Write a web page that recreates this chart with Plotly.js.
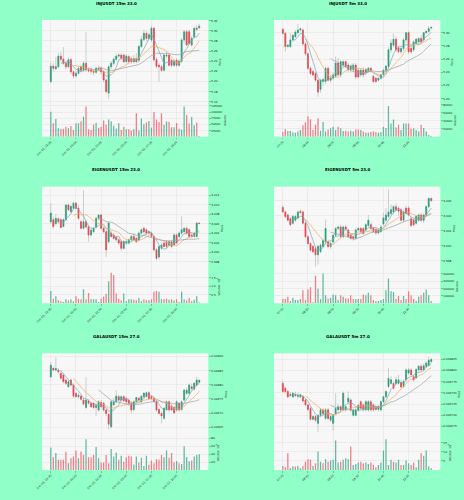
<!DOCTYPE html>
<html><head><meta charset="utf-8">
<script src="https://cdn.plot.ly/plotly-3.0.1.min.js"></script>
<style>html,body{margin:0;padding:0;background:#90ffc8;}#chart{width:464px;height:500px;}</style>
</head><body><div id="chart"></div>
<script>
// ---------- tick labels ----------
const ticks15Text = ['Dec 01, 21:30','Dec 02, 00:00','Dec 02, 02:30','Dec 02, 05:00','Dec 02, 07:30','Dec 02, 10:00'];
const ticks5Text = ['07:20','08:10','09:00','09:50','10:40','11:30'];
const tickCandles = [0,10,20,30,40,50];

// ---------- INJUSDT 15m ----------
const inj15Open = [5.200,5.230,5.225,5.229,5.250,5.244,5.236,5.229,5.243,5.219, 5.211,5.216,5.229,5.222,5.236,5.223,5.224,5.220,5.218,5.226, 5.226,5.219,5.203,5.177,5.229,5.236,5.244,5.250,5.252,5.252, 5.239,5.249,5.245,5.239,5.245,5.242,5.269,5.283,5.295,5.285, 5.282,5.305,5.243,5.232,5.229,5.222,5.250,5.252,5.242,5.232, 5.242,5.232,5.240,5.282,5.298,5.298,5.272,5.288,5.305,5.306];
const inj15High = [5.238,5.236,5.248,5.256,5.258,5.268,5.240,5.247,5.246,5.222, 5.220,5.231,5.233,5.240,5.298,5.228,5.228,5.224,5.230,5.232, 5.230,5.222,5.206,5.232,5.240,5.248,5.254,5.256,5.256,5.255, 5.254,5.252,5.250,5.252,5.256,5.272,5.290,5.302,5.300,5.296, 5.310,5.308,5.248,5.236,5.233,5.256,5.258,5.255,5.245,5.243, 5.246,5.244,5.285,5.302,5.302,5.302,5.290,5.308,5.312,5.314];
const inj15Low = [5.196,5.220,5.222,5.226,5.240,5.232,5.224,5.226,5.214,5.206, 5.208,5.214,5.218,5.219,5.219,5.218,5.214,5.212,5.215,5.220, 5.213,5.198,5.176,5.165,5.225,5.232,5.240,5.246,5.242,5.236, 5.236,5.235,5.234,5.236,5.236,5.238,5.266,5.280,5.280,5.282, 5.278,5.240,5.226,5.200,5.218,5.220,5.246,5.229,5.228,5.229, 5.228,5.229,5.236,5.275,5.270,5.272,5.268,5.284,5.300,5.303];
const inj15Close = [5.230,5.226,5.229,5.250,5.244,5.236,5.229,5.243,5.219,5.211, 5.216,5.226,5.222,5.236,5.223,5.221,5.220,5.218,5.226,5.224, 5.219,5.203,5.180,5.229,5.236,5.244,5.250,5.252,5.246,5.239, 5.250,5.239,5.239,5.245,5.239,5.269,5.283,5.295,5.285,5.292, 5.305,5.243,5.230,5.229,5.222,5.252,5.252,5.232,5.232,5.239, 5.232,5.240,5.282,5.298,5.272,5.275,5.285,5.305,5.303,5.309];
const inj15Vol = [101000,54000,72000,34000,31000,31000,40000,34000,43000,27000, 54000,54000,63000,81000,122000,30000,27000,48000,56000,36000, 40000,66000,48000,70000,63000,44000,33000,54000,27000,40000, 30000,30000,25000,30000,95000,25000,74000,50000,57000,64000, 36000,100000,70000,60000,95000,48000,62000,60000,38000,38000, 55000,32000,28000,122000,88000,53000,80000,46000,58000,3000];
const inj15PriceTicks = [5.16,5.18,5.20,5.22,5.24,5.26,5.28,5.30,5.32];
const inj15VolTicks = [25000,50000,75000,100000,125000];

// ---------- INJUSDT 5m ----------
const inj5Open = [5.305,5.299,5.279,5.279,5.289,5.294,5.300,5.304,5.304,5.283, 5.268,5.246,5.241,5.238,5.228,5.214,5.226,5.226,5.246,5.228, 5.231,5.234,5.254,5.236,5.251,5.256,5.251,5.244,5.244,5.251, 5.243,5.236,5.243,5.240,5.241,5.246,5.234,5.231,5.228,5.231, 5.236,5.243,5.249,5.274,5.281,5.290,5.277,5.271,5.276,5.289, 5.300,5.276,5.274,5.284,5.286,5.291,5.289,5.300,5.302,5.307];
const inj5High = [5.307,5.301,5.283,5.299,5.298,5.304,5.313,5.307,5.306,5.286, 5.270,5.249,5.244,5.240,5.230,5.230,5.231,5.249,5.249,5.236, 5.239,5.264,5.262,5.258,5.258,5.258,5.254,5.250,5.254,5.254, 5.246,5.246,5.248,5.246,5.248,5.248,5.236,5.233,5.232,5.238, 5.246,5.251,5.278,5.290,5.299,5.294,5.280,5.278,5.292,5.300, 5.302,5.280,5.289,5.292,5.293,5.296,5.300,5.303,5.310,5.309];
const inj5Low = [5.297,5.271,5.276,5.277,5.286,5.292,5.298,5.302,5.280,5.265, 5.244,5.236,5.234,5.226,5.203,5.209,5.220,5.222,5.226,5.224, 5.228,5.232,5.234,5.232,5.248,5.246,5.240,5.240,5.240,5.230, 5.231,5.233,5.232,5.236,5.240,5.240,5.224,5.224,5.226,5.229, 5.233,5.240,5.246,5.270,5.278,5.271,5.269,5.268,5.272,5.285, 5.268,5.268,5.271,5.282,5.283,5.283,5.286,5.298,5.300,5.305];
const inj5Close = [5.299,5.279,5.281,5.289,5.296,5.301,5.304,5.306,5.283,5.268, 5.246,5.238,5.236,5.228,5.210,5.228,5.229,5.246,5.228,5.231, 5.236,5.254,5.236,5.256,5.256,5.249,5.244,5.249,5.251,5.233, 5.233,5.243,5.236,5.244,5.246,5.243,5.226,5.226,5.231,5.236, 5.243,5.249,5.274,5.284,5.290,5.274,5.271,5.276,5.289,5.300, 5.271,5.271,5.286,5.290,5.291,5.286,5.300,5.302,5.306,5.308];
const inj5Vol = [12000,19000,14000,14000,11000,10000,13000,17000,29000,36000, 51000,44000,17000,30000,46000,15000,37000,13000,18000,21000, 25000,17000,25000,21000,14000,15000,13000,15000,13000,18000, 18000,17000,13000,10000,10000,12000,13000,11000,10000,12000, 25000,22000,77000,33000,43000,23000,30000,17000,33000,33000, 33000,20000,21000,17000,13000,30000,22000,13000,4000,2000];
const inj5PriceTicks = [5.20,5.22,5.24,5.26,5.28,5.30];
const inj5VolTicks = [20000,40000,60000,80000];

// ---------- EIGENUSDT 15m ----------
const eig15Open = [3.0064,3.0068,3.0060,3.0070,3.0068,3.0054,3.0068,3.0099,3.0085,3.0092, 3.0103,3.0092,3.0064,3.0050,3.0064,3.0053,3.0036,3.0043,3.0053,3.0071, 3.0078,3.0050,3.0043,3.0022,3.0040,3.0036,3.0032,3.0026,3.0022,3.0008, 3.0019,3.0019,3.0026,3.0033,3.0029,3.0026,3.0040,3.0050,3.0047,3.0040, 3.0040,3.0033,3.0005,2.9990,3.0008,3.0019,3.0022,3.0015,3.0022,3.0015, 3.0036,3.0033,3.0040,3.0043,3.0050,3.0047,3.0036,3.0033,3.0033,3.0061];
const eig15High = [3.0103,3.0075,3.0080,3.0073,3.0072,3.0071,3.0101,3.0102,3.0099,3.0106, 3.0105,3.0099,3.0068,3.0130,3.0068,3.0056,3.0048,3.0053,3.0075,3.0080, 3.0080,3.0053,3.0046,3.0064,3.0046,3.0040,3.0035,3.0029,3.0025,3.0025, 3.0026,3.0029,3.0036,3.0040,3.0032,3.0043,3.0050,3.0054,3.0050,3.0045, 3.0043,3.0036,3.0008,3.0015,3.0019,3.0024,3.0025,3.0025,3.0026,3.0040, 3.0040,3.0043,3.0075,3.0053,3.0054,3.0050,3.0040,3.0043,3.0064,3.0063];
const eig15Low = [3.0060,3.0050,3.0057,3.0060,3.0050,3.0052,3.0065,3.0086,3.0082,3.0090, 3.0089,3.0068,3.0048,3.0048,3.0050,3.0022,3.0033,3.0040,3.0050,3.0066, 3.0048,3.0040,2.9990,3.0019,3.0030,3.0026,3.0022,3.0015,3.0003,3.0005, 3.0015,3.0016,3.0022,3.0024,3.0019,3.0022,3.0037,3.0040,3.0036,3.0036, 3.0030,3.0002,2.9983,2.9985,3.0005,3.0010,3.0008,3.0012,3.0008,3.0012, 3.0016,3.0030,3.0036,3.0040,3.0036,3.0030,3.0030,3.0030,3.0030,3.0059];
const eig15Close = [3.0082,3.0054,3.0071,3.0064,3.0052,3.0068,3.0099,3.0089,3.0096,3.0103, 3.0092,3.0071,3.0050,3.0064,3.0053,3.0036,3.0046,3.0050,3.0071,3.0078, 3.0050,3.0043,3.0005,3.0061,3.0033,3.0029,3.0026,3.0019,3.0008,3.0022, 3.0022,3.0026,3.0033,3.0026,3.0022,3.0040,3.0047,3.0043,3.0040,3.0043, 3.0033,3.0005,2.9987,3.0012,3.0015,3.0012,3.0012,3.0022,3.0012,3.0036, 3.0019,3.0040,3.0047,3.0050,3.0040,3.0033,3.0033,3.0040,3.0061,3.0060];
const eig15Vol = [710000,270000,410000,180000,120000,80000,240000,160000,240000,120000, 410000,270000,240000,820000,240000,600000,240000,240000,240000,80000, 270000,390000,550000,1290000,1780000,1650000,570000,270000,180000,570000, 120000,240000,240000,200000,180000,310000,120000,240000,180000,180000, 240000,670000,710000,670000,240000,240000,270000,200000,240000,160000, 240000,80000,670000,240000,180000,310000,120000,200000,410000,40000];
const eig15PriceTicks = [2.998,3.000,3.002,3.004,3.006,3.008,3.010,3.012];
const eig15VolTicks = [500000,1000000,1500000];
const eig15VolText = ['0.5','1.0','1.5'];

// ---------- EIGENUSDT 5m ----------
const eig5Open = [3.0051,3.0045,3.0041,3.0036,3.0030,3.0034,3.0037,3.0046,3.0045,3.0030, 3.0012,3.0003,2.9999,2.9996,2.9988,2.9992,2.9999,3.0005,3.0005,2.9999, 3.0005,3.0014,3.0023,3.0025,3.0012,3.0025,3.0021,3.0014,3.0012,3.0010, 3.0021,3.0023,3.0023,3.0021,3.0027,3.0028,3.0023,3.0022,3.0017,3.0019, 3.0029,3.0034,3.0039,3.0043,3.0045,3.0052,3.0050,3.0048,3.0034,3.0050, 3.0050,3.0036,3.0034,3.0030,3.0034,3.0041,3.0034,3.0041,3.0052,3.0063];
const eig5High = [3.0054,3.0047,3.0043,3.0038,3.0041,3.0041,3.0047,3.0048,3.0047,3.0032, 3.0014,3.0005,3.0001,2.9999,3.0001,3.0003,3.0010,3.0035,3.0008,3.0006, 3.0016,3.0025,3.0027,3.0028,3.0027,3.0028,3.0023,3.0016,3.0014,3.0023, 3.0025,3.0025,3.0025,3.0030,3.0041,3.0031,3.0025,3.0023,3.0022,3.0028, 3.0044,3.0050,3.0075,3.0055,3.0054,3.0056,3.0052,3.0050,3.0048,3.0053, 3.0053,3.0038,3.0036,3.0041,3.0043,3.0044,3.0043,3.0054,3.0064,3.0064];
const eig5Low = [3.0044,3.0037,3.0032,3.0026,3.0028,3.0032,3.0035,3.0043,3.0028,3.0010, 3.0001,2.9992,2.9990,2.9972,2.9975,2.9990,2.9997,3.0003,2.9997,2.9996, 3.0003,3.0012,3.0021,3.0010,3.0010,3.0021,3.0010,3.0008,3.0007,3.0008, 3.0019,3.0017,3.0015,3.0019,3.0025,3.0021,3.0017,3.0014,3.0015,3.0017, 3.0027,3.0032,3.0037,3.0041,3.0043,3.0046,3.0040,3.0032,3.0032,3.0042, 3.0039,3.0025,3.0026,3.0028,3.0032,3.0032,3.0030,3.0039,3.0050,3.0059];
const eig5Close = [3.0045,3.0039,3.0034,3.0028,3.0039,3.0039,3.0045,3.0044,3.0030,3.0012, 3.0003,2.9994,2.9992,2.9988,2.9999,3.0001,3.0007,3.0023,2.9999,3.0003, 3.0014,3.0023,3.0025,3.0012,3.0025,3.0022,3.0012,3.0010,3.0010,3.0021, 3.0023,3.0019,3.0016,3.0028,3.0034,3.0023,3.0019,3.0017,3.0021,3.0025, 3.0037,3.0041,3.0045,3.0048,3.0052,3.0048,3.0046,3.0034,3.0045,3.0043, 3.0041,3.0027,3.0028,3.0039,3.0041,3.0034,3.0041,3.0052,3.0063,3.0060];
const eig5Vol = [57000,57000,88000,31000,75000,44000,44000,57000,176000,44000, 189000,220000,13000,374000,198000,57000,405000,110000,66000,75000, 119000,110000,44000,110000,88000,66000,66000,110000,57000,57000, 57000,57000,119000,110000,145000,110000,44000,31000,31000,44000, 57000,176000,339000,163000,154000,57000,101000,44000,101000,57000, 163000,110000,57000,31000,88000,110000,145000,189000,110000,31000];
const eig5PriceTicks = [2.998,3.000,3.002,3.004,3.006];
const eig5VolTicks = [100000,200000,300000,400000];

// ---------- GALAUSDT 15m ----------
const gala15Open = [0.046828,0.046858,0.046852,0.046852,0.046840,0.046834,0.046817,0.046793,0.046817,0.046799, 0.046770,0.046758,0.046760,0.046746,0.046720,0.046743,0.046735,0.046735,0.046720,0.046711, 0.046738,0.046735,0.046711,0.046696,0.046652,0.046729,0.046740,0.046758,0.046746,0.046758, 0.046752,0.046746,0.046735,0.046713,0.046740,0.046752,0.046740,0.046758,0.046760,0.046772, 0.046758,0.046752,0.046740,0.046713,0.046699,0.046682,0.046713,0.046740,0.046725,0.046720, 0.046711,0.046735,0.046713,0.046746,0.046770,0.046770,0.046793,0.046785,0.046799,0.046809];
const gala15High = [0.046880,0.046864,0.046896,0.046860,0.046852,0.046840,0.046822,0.046817,0.046822,0.046805, 0.046775,0.046772,0.046765,0.046752,0.046828,0.046750,0.046740,0.046740,0.046735,0.046746, 0.046745,0.046740,0.046716,0.046700,0.046746,0.046752,0.046781,0.046764,0.046762,0.046764, 0.046758,0.046752,0.046742,0.046745,0.046758,0.046758,0.046764,0.046775,0.046776,0.046778, 0.046764,0.046755,0.046745,0.046716,0.046705,0.046722,0.046745,0.046746,0.046732,0.046725, 0.046746,0.046740,0.046745,0.046788,0.046790,0.046805,0.046805,0.046810,0.046828,0.046822];
const gala15Low = [0.046822,0.046848,0.046848,0.046840,0.046818,0.046805,0.046799,0.046790,0.046795,0.046755, 0.046755,0.046752,0.046745,0.046728,0.046715,0.046730,0.046718,0.046715,0.046690,0.046705, 0.046718,0.046705,0.046690,0.046641,0.046645,0.046725,0.046735,0.046740,0.046740,0.046738, 0.046735,0.046725,0.046700,0.046705,0.046735,0.046740,0.046735,0.046752,0.046755,0.046750, 0.046745,0.046736,0.046705,0.046695,0.046664,0.046676,0.046708,0.046705,0.046708,0.046697, 0.046705,0.046705,0.046708,0.046740,0.046764,0.046764,0.046780,0.046778,0.046795,0.046805];
const gala15Close = [0.046869,0.046852,0.046857,0.046846,0.046823,0.046811,0.046805,0.046811,0.046799,0.046760, 0.046758,0.046764,0.046749,0.046732,0.046746,0.046735,0.046723,0.046720,0.046726,0.046740, 0.046723,0.046711,0.046699,0.046661,0.046740,0.046740,0.046760,0.046746,0.046758,0.046744, 0.046740,0.046735,0.046711,0.046740,0.046755,0.046746,0.046760,0.046770,0.046772,0.046752, 0.046752,0.046740,0.046711,0.046699,0.046690,0.046717,0.046740,0.046711,0.046711,0.046701, 0.046740,0.046711,0.046740,0.046781,0.046781,0.046799,0.046787,0.046805,0.046817,0.046815];
const gala15Vol = [57e6,32e6,43e6,26e6,26e6,26e6,46e6,17e6,30e6,34e6, 49e6,30e6,47e6,38e6,78e6,32e6,32e6,38e6,58e6,30e6, 19e6,19e6,38e6,17e6,53e6,34e6,44e6,26e6,36e6,21e6, 32e6,36e6,34e6,14e6,34e6,19e6,31e6,10e6,36e6,13e6, 24e6,17e6,27e6,26e6,38e6,32e6,49e6,31e6,43e6,19e6, 23e6,17e6,15e6,60e6,33e6,22e6,24e6,34e6,38e6,40e6];
const gala15PriceTicks = [0.04665,0.04670,0.04675,0.04680,0.04685,0.04690];
const gala15VolTicks = [20e6,40e6,60e6,80e6];
const gala15VolText = ['20','40','60','80'];

// ---------- GALAUSDT 5m ----------
const gala5Open = [0.046771,0.046760,0.046753,0.046744,0.046741,0.046746,0.046742,0.046741,0.046741,0.046734, 0.046723,0.046715,0.046691,0.046697,0.046682,0.046700,0.046712,0.046693,0.046712,0.046689, 0.046682,0.046704,0.046712,0.046719,0.046712,0.046712,0.046730,0.046734,0.046700,0.046700, 0.046712,0.046730,0.046723,0.046712,0.046712,0.046730,0.046723,0.046719,0.046713,0.046712, 0.046730,0.046741,0.046764,0.046771,0.046771,0.046771,0.046771,0.046773,0.046764,0.046779, 0.046794,0.046801,0.046786,0.046783,0.046801,0.046809,0.046801,0.046809,0.046811,0.046820];
const gala5High = [0.046776,0.046764,0.046756,0.046752,0.046752,0.046752,0.046750,0.046748,0.046745,0.046738, 0.046726,0.046718,0.046700,0.046700,0.046702,0.046716,0.046715,0.046716,0.046716,0.046700, 0.046703,0.046749,0.046726,0.046722,0.046753,0.046722,0.046753,0.046738,0.046715,0.046718, 0.046726,0.046733,0.046726,0.046734,0.046734,0.046734,0.046727,0.046722,0.046722,0.046733, 0.046744,0.046756,0.046805,0.046786,0.046775,0.046786,0.046790,0.046778,0.046780,0.046804, 0.046805,0.046805,0.046790,0.046805,0.046812,0.046815,0.046815,0.046820,0.046830,0.046828];
const gala5Low = [0.046750,0.046749,0.046738,0.046740,0.046738,0.046740,0.046736,0.046738,0.046728,0.046720, 0.046710,0.046688,0.046688,0.046685,0.046663,0.046696,0.046700,0.046690,0.046690,0.046685, 0.046666,0.046700,0.046710,0.046710,0.046709,0.046708,0.046726,0.046708,0.046697,0.046698, 0.046708,0.046712,0.046708,0.046709,0.046708,0.046708,0.046708,0.046710,0.046708,0.046709, 0.046727,0.046738,0.046760,0.046768,0.046758,0.046768,0.046768,0.046760,0.046761,0.046776, 0.046790,0.046788,0.046775,0.046780,0.046798,0.046798,0.046798,0.046806,0.046808,0.046816];
const gala5Close = [0.046753,0.046753,0.046741,0.046746,0.046749,0.046744,0.046744,0.046745,0.046732,0.046723, 0.046713,0.046691,0.046697,0.046689,0.046700,0.046712,0.046704,0.046712,0.046693,0.046697, 0.046700,0.046715,0.046719,0.046712,0.046749,0.046719,0.046738,0.046712,0.046712,0.046712, 0.046722,0.046716,0.046712,0.046730,0.046730,0.046712,0.046712,0.046713,0.046720,0.046730, 0.046741,0.046753,0.046782,0.046779,0.046760,0.046779,0.046779,0.046763,0.046775,0.046801, 0.046801,0.046790,0.046779,0.046802,0.046809,0.046801,0.046810,0.046816,0.046822,0.046824];
const gala5Vol = [2.2e6,1.5e6,9.3e6,0.9e6,1.9e6,1.9e6,2.2e6,0.9e6,2.2e6,4.6e6, 5.9e6,5.6e6,2.2e6,3.7e6,10.2e6,4.6e6,3.7e6,5.9e6,4.6e6,5.2e6, 5.6e6,16.3e6,4.1e6,4.6e6,5.6e6,6.5e6,5.9e6,13e6,2.8e6,3.3e6, 4.1e6,4.6e6,3.7e6,4.1e6,3.3e6,4.1e6,2.8e6,1.5e6,2.8e6,4.1e6, 10.7e6,17e6,2.8e6,5.6e6,4.6e6,4.1e6,5.6e6,2.8e6,2.8e6,5.2e6, 3.7e6,2.8e6,4.1e6,1.5e6,5.6e6,9.3e6,7.8e6,10.7e6,1.9e6,0.9e6];
const gala5PriceTicks = [0.046675,0.046700,0.046725,0.046750,0.046775,0.046800,0.046825];
const gala5VolTicks = [5e6,10e6,15e6];
const gala5VolText = ['5','10','15'];

const mavPeriods = [5, 10, 20];

// ---------- build ----------
const UP = '#22a47b', DN = '#f2424f';
const UPV = 'rgba(34,164,123,0.72)', DNV = 'rgba(242,66,79,0.68)';
const WICK = '#a3a3a3';
const MA_COLORS = ['#7ea3b8', '#f3a95e', '#9aa2a6'];
const FONT = 'DejaVu Sans';

function sma(arr, n) {
  return arr.map((_, i) => i < n - 1 ? null : arr.slice(i - n + 1, i + 1).reduce((a, b) => a + b, 0) / n);
}

const panels = [
  {title:'INJUSDT 15m 33.0', o:inj15Open, h:inj15High, l:inj15Low, c:inj15Close, v:inj15Vol,
   pt:inj15PriceTicks, pf:'.2f', pr:[5.1555,5.3213], vt:inj15VolTicks, vtx:inj15VolTicks.map(String), vr:[0,132400], vtitle:'Volume', xt:ticks15Text},
  {title:'INJUSDT 5m 33.0', o:inj5Open, h:inj5High, l:inj5Low, c:inj5Close, v:inj5Vol,
   pt:inj5PriceTicks, pf:'.2f', pr:[5.1919,5.3192], vt:inj5VolTicks, vtx:inj5VolTicks.map(String), vr:[0,82000], vtitle:'Volume', xt:ticks5Text},
  {title:'EIGENUSDT 15m 23.0', o:eig15Open, h:eig15High, l:eig15Low, c:eig15Close, v:eig15Vol,
   pt:eig15PriceTicks, pf:'.3f', pr:[2.99625,3.01375], vt:eig15VolTicks, vtx:eig15VolText, vr:[0,1940000], vtitle:'Volume  10<sup>6</sup>', xt:ticks15Text},
  {title:'EIGENUSDT 5m 23.0', o:eig5Open, h:eig5High, l:eig5Low, c:eig5Close, v:eig5Vol,
   pt:eig5PriceTicks, pf:'.3f', pr:[2.99677,3.00786], vt:eig5VolTicks, vtx:eig5VolTicks.map(String), vr:[0,453000], vtitle:'Volume', xt:ticks5Text},
  {title:'GALAUSDT 15m 27.0', o:gala15Open, h:gala15High, l:gala15Low, c:gala15Close, v:gala15Vol,
   pt:gala15PriceTicks, pf:'.5f', pr:[0.046623,0.046911], vt:gala15VolTicks, vtx:gala15VolText, vr:[0,88.5e6], vtitle:'Volume  10<sup>6</sup>', xt:ticks15Text},
  {title:'GALAUSDT 5m 27.0', o:gala5Open, h:gala5High, l:gala5Low, c:gala5Close, v:gala5Vol,
   pt:gala5PriceTicks, pf:'.6f', pr:[0.046656,0.046838], vt:gala5VolTicks, vtx:gala5VolText, vr:[0,19.3e6], vtitle:'Volume  10<sup>6</sup>', xt:ticks5Text}
];

const W = 464, H = 500;
const colPx = [[42, 208.3], [274, 440.3]];
const rowPx = [{top:20, div:104, bot:136.7, ty:3.8}, {top:186.7, div:270, bot:303.3, ty:169.8}, {top:353.3, div:435, bot:470, ty:336}];
const titleX = [116, 348];
const XR = [-3.5, 62.6];

const traces = [];
const layout = {
  width: W, height: H, margin: {l:0, r:0, t:0, b:0},
  paper_bgcolor: '#90ffc8', plot_bgcolor: '#f7f7f7',
  showlegend: false, hovermode: false, dragmode: false,
  boxmode: 'overlay', boxgap: 0.38, boxgroupgap: 0.38, bargap: 0.5,
  font: {family: FONT, size: 3, color: '#222'},
  annotations: []
};

function axName(i) { return i === 1 ? '' : String(i); }

panels.forEach((P, k) => {
  const col = k % 2, row = Math.floor(k / 2);
  const ia = 2 * k + 1, ib = 2 * k + 2;
  const xa = 'x' + axName(ia), ya = 'y' + axName(ia);
  const xb = 'x' + axName(ib), yb = 'y' + axName(ib);
  const xs = P.o.map((_, i) => i);
  const xd = [colPx[col][0] / W, colPx[col][1] / W];
  const R = rowPx[row];
  const pd = [1 - R.div / H, 1 - R.top / H];
  const vd = [1 - R.bot / H, 1 - R.div / H];

  // wicks (grey)
  traces.push({type:'candlestick', xaxis:xa, yaxis:ya, x:xs, open:P.o, high:P.h, low:P.l, close:P.c,
    whiskerwidth:0,
    increasing:{line:{color:WICK, width:0.5}, fillcolor:WICK},
    decreasing:{line:{color:WICK, width:0.5}, fillcolor:WICK}, hoverinfo:'skip'});
  // bodies
  const bHi = P.o.map((o, i) => Math.max(o, P.c[i]));
  const bLo = P.o.map((o, i) => Math.min(o, P.c[i]));
  traces.push({type:'candlestick', xaxis:xa, yaxis:ya, x:xs, open:P.o, high:bHi, low:bLo, close:P.c,
    whiskerwidth:0,
    increasing:{line:{color:UP, width:0.5}, fillcolor:UP},
    decreasing:{line:{color:DN, width:0.5}, fillcolor:DN}, hoverinfo:'skip'});
  // moving averages
  mavPeriods.forEach((n, j) => {
    traces.push({type:'scatter', mode:'lines', xaxis:xa, yaxis:ya, x:xs, y:sma(P.c, n),
      line:{color:MA_COLORS[j], width:0.7}, connectgaps:false, hoverinfo:'skip'});
  });
  // volume
  traces.push({type:'bar', xaxis:xb, yaxis:yb, x:xs, y:P.v,
    marker:{color:P.o.map((o, i) => P.c[i] >= o ? UPV : DNV), line:{width:0}}, hoverinfo:'skip'});

  const gridc = '#e1e1e1';
  layout['xaxis' + axName(ia)] = {domain:xd, anchor:ya, range:XR, fixedrange:true,
    rangeslider:{visible:false}, tickvals:tickCandles, showticklabels:false, ticks:'',
    showgrid:true, gridcolor:gridc, gridwidth:0.5, zeroline:false, showline:false};
  layout['yaxis' + axName(ia)] = {domain:pd, anchor:xa, side:'right', range:P.pr, fixedrange:true,
    tickvals:P.pt, tickformat:P.pf, ticks:'outside', ticklen:1.5, tickwidth:0.4, tickcolor:'#555',
    tickfont:{size:2.8, family:FONT, color:'#222'}, showgrid:true, gridcolor:gridc, gridwidth:0.5,
    zeroline:false, showline:false,
    title:{text:'Price', font:{size:2.9, family:FONT, color:'#222'}, standoff:2}};
  layout['xaxis' + axName(ib)] = {domain:xd, anchor:yb, range:XR, fixedrange:true,
    tickvals:tickCandles, ticktext:P.xt, tickangle:-45, ticks:'outside', ticklen:1.5, tickwidth:0.4, tickcolor:'#555',
    tickfont:{size:2.8, family:FONT, color:'#222'}, showgrid:true, gridcolor:gridc, gridwidth:0.5,
    zeroline:false, showline:false};
  layout['yaxis' + axName(ib)] = {domain:vd, anchor:xb, side:'right', range:P.vr, fixedrange:true,
    tickvals:P.vt, ticktext:P.vtx, ticks:'outside', ticklen:1.5, tickwidth:0.4, tickcolor:'#555',
    tickfont:{size:2.8, family:FONT, color:'#222'}, showgrid:true, gridcolor:gridc, gridwidth:0.5,
    zeroline:false, showline:false,
    title:{text:P.vtitle, font:{size:2.9, family:FONT, color:'#222'}, standoff:2}};

  layout.annotations.push({xref:'paper', yref:'paper', x:titleX[col] / W, y:1 - R.ty / H,
    xanchor:'center', yanchor:'middle', showarrow:false,
    text:'<b>' + P.title + '</b>', font:{size:4, family:FONT, color:'#000'}});
});

Plotly.newPlot('chart', traces, layout, {staticPlot:true, displayModeBar:false});
</script>
</body></html>
